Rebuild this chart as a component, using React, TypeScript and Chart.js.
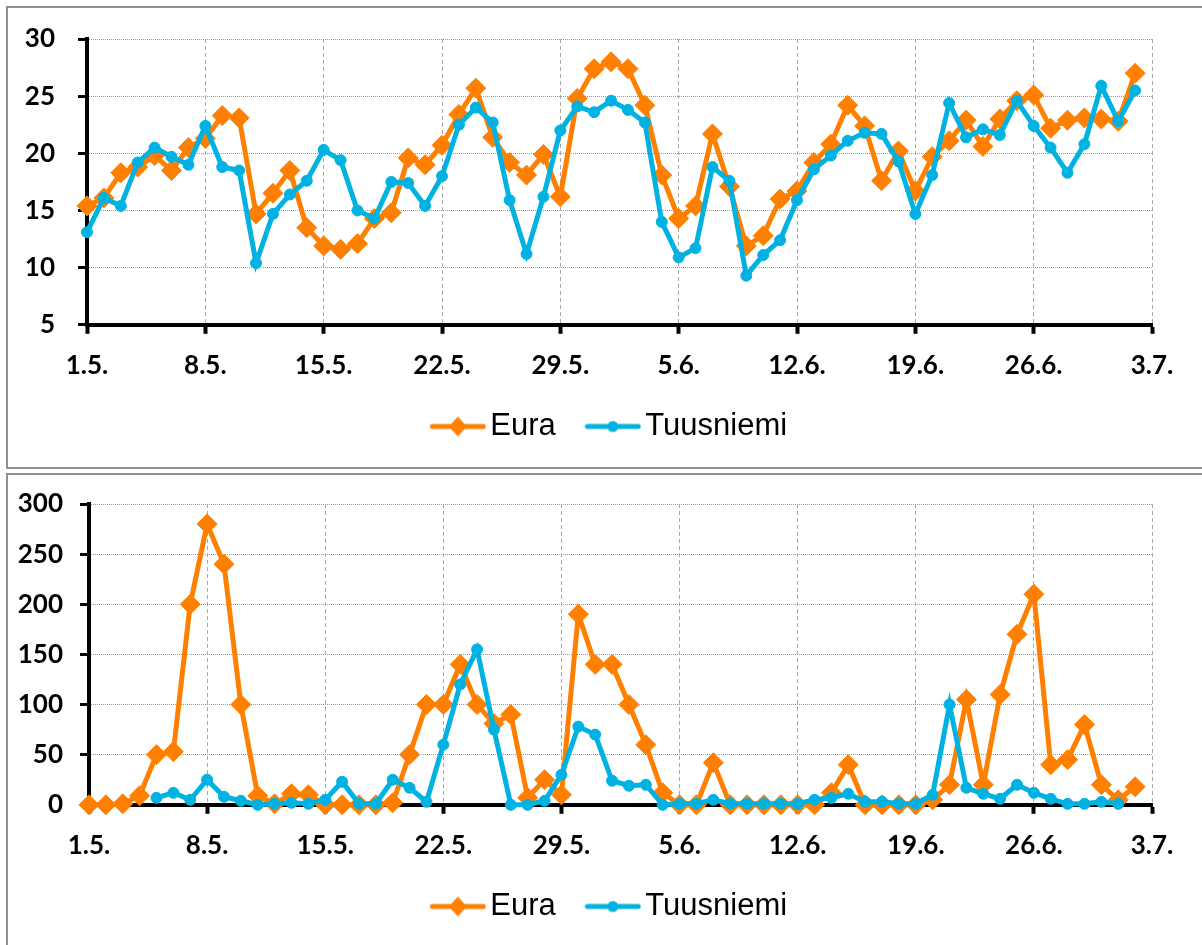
import React, { useEffect, useRef } from 'react';
import { Chart, registerables } from 'chart.js';

Chart.register(...registerables);

// ---- Data ----
const dates = [
  '1.5.', '2.5.', '3.5.', '4.5.', '5.5.', '6.5.', '7.5.', '8.5.', '9.5.', '10.5.',
  '11.5.', '12.5.', '13.5.', '14.5.', '15.5.', '16.5.', '17.5.', '18.5.', '19.5.', '20.5.',
  '21.5.', '22.5.', '23.5.', '24.5.', '25.5.', '26.5.', '27.5.', '28.5.', '29.5.', '30.5.',
  '31.5.', '1.6.', '2.6.', '3.6.', '4.6.', '5.6.', '6.6.', '7.6.', '8.6.', '9.6.',
  '10.6.', '11.6.', '12.6.', '13.6.', '14.6.', '15.6.', '16.6.', '17.6.', '18.6.', '19.6.',
  '20.6.', '21.6.', '22.6.', '23.6.', '24.6.', '25.6.', '26.6.', '27.6.', '28.6.', '29.6.',
  '30.6.', '1.7.', '2.7.', '3.7.',
];

const seriesNames = ['Eura', 'Tuusniemi'];

const tempEura = [
  15.4, 16.1, 18.3, 18.8, 19.8, 18.5, 20.5, 21.3, 23.3, 23.1,
  14.7, 16.5, 18.5, 13.5, 11.9, 11.6, 12.1, 14.3, 14.8, 19.6,
  19.0, 20.7, 23.4, 25.7, 21.4, 19.2, 18.1, 19.9, 16.2, 24.8,
  27.4, 28.0, 27.4, 24.2, 18.1, 14.3, 15.4, 21.7, 17.1, 11.9,
  12.8, 16.0, 16.7, 19.2, 20.8, 24.2, 22.4, 17.6, 20.2, 16.7,
  19.7, 21.1, 22.9, 20.6, 23.0, 24.6, 25.1, 22.2, 22.9, 23.1,
  23.0, 22.8, 27.0,
];

const tempTuusniemi = [
  13.1, 16.1, 15.4, 19.2, 20.5, 19.7, 19.0, 22.4, 18.8, 18.5,
  10.4, 14.7, 16.4, 17.6, 20.3, 19.4, 15.0, 14.3, 17.5, 17.4,
  15.4, 18.0, 22.5, 24.0, 22.7, 15.9, 11.2, 16.2, 22.0, 24.1,
  23.6, 24.6, 23.8, 22.7, 14.0, 10.9, 11.7, 18.8, 17.6, 9.3,
  11.1, 12.4, 15.9, 18.6, 19.8, 21.1, 21.8, 21.7, 19.3, 14.7,
  18.1, 24.4, 21.4, 22.1, 21.6, 24.6, 22.4, 20.5, 18.3, 20.8,
  25.9, 22.8, 25.5,
];

const rainEura = [
  0, 0, 1, 9, 50, 53, 200, 280, 240, 100,
  9, 1, 11, 10, 0, 0, 0, 0, 2, 50,
  100, 100, 140, 100, 81, 90, 7, 25, 10, 190,
  140, 140, 100, 60, 12, 0, 0, 42, 0, 0,
  0, 0, 0, 0, 12, 40, 0, 0, 0, 0,
  5, 20, 105, 20, 110, 170, 210, 40, 45, 80,
  20, 5, 18,
];

const rainTuusniemi = [
  null, null, null, null, 7, 12, 5, 25, 8, 4,
  0, 1, 2, 1, 5, 23, 1, 1, 25, 17,
  3, 60, 120, 155, 75, 0, 0, 4, 30, 78,
  70, 24, 19, 20, 0, 1, 1, 5, 1, 1,
  1, 1, 1, 5, 7, 11, 3, 3, 1, 1,
  10, 100, 17, 11, 6, 20, 12, 6, 1, 1,
  3, 1,
];

const tempRange = [5, 30, 5];
const rainRange = [0, 300, 50];

// ---- Styles ----
const ORANGE = '#FF8000';
const BLUE = '#00B2E2';
const HGRID = '#9A9A9A';
const VGRID = '#A8A8A8';
const PANEL_BORDER = '#8F8F8F';
const CLEAR = 'rgba(0,0,0,0)';

function makeSwatch(color: string, kind: 'diamond' | 'circle') {
  // 83px wide image, the visible swatch occupies x = 26..83
  const c = document.createElement('canvas');
  c.width = 83;
  c.height = 22;
  const g = c.getContext('2d')!;
  const x0 = 26;
  g.strokeStyle = color;
  g.lineWidth = 5;
  g.lineCap = 'round';
  g.beginPath();
  g.moveTo(x0 + 3, 11);
  g.lineTo(x0 + 54, 11);
  g.stroke();
  g.fillStyle = color;
  g.beginPath();
  const cx = x0 + 28.5;
  if (kind === 'diamond') {
    g.moveTo(cx, 1);
    g.lineTo(cx + 9, 11);
    g.lineTo(cx, 21);
    g.lineTo(cx - 9, 11);
    g.closePath();
  } else {
    g.arc(cx, 11, 5.5, 0, Math.PI * 2);
  }
  g.fill();
  return c;
}

type Opts = {
  eura: (number | null)[];
  tuus: (number | null)[];
  range: number[];
  yWidth: number;
  yPad: number;
  padTop: number;
  padBottom: number;
};

function makeConfig(o: Opts): any {
  const family = 'Lato, "Open Sans", sans-serif';
  const xFont = { family, size: 26, weight: 'bold' as const };
  const yFont = { family, size: 26, weight: 'bold' as const, lineHeight: 0.5 };
  const swE = makeSwatch(ORANGE, 'diamond');
  const swT = makeSwatch(BLUE, 'circle');
  return {
    type: 'line',
    data: {
      labels: dates,
      datasets: [
        {
          label: seriesNames[0],
          data: o.eura,
          borderColor: ORANGE,
          backgroundColor: ORANGE,
          borderWidth: 5,
          pointStyle: 'rectRot',
          pointRadius: 10,
          pointBorderWidth: 1,
          pointBackgroundColor: ORANGE,
          pointBorderColor: ORANGE,
          tension: 0,
          clip: false,
          order: 1,
        },
        {
          label: seriesNames[1],
          data: o.tuus,
          borderColor: BLUE,
          backgroundColor: BLUE,
          borderWidth: 5,
          pointStyle: 'circle',
          pointRadius: 5.5,
          pointBorderWidth: 1,
          pointBackgroundColor: BLUE,
          pointBorderColor: BLUE,
          tension: 0,
          clip: false,
          order: 0,
        },
      ],
    },
    options: {
      responsive: false,
      animation: false,
      events: [],
      layout: { padding: { left: 0, right: 8, top: o.padTop, bottom: o.padBottom } },
      plugins: {
        tooltip: { enabled: false },
        title: { display: false },
        legend: {
          display: true,
          position: 'bottom',
          labels: {
            usePointStyle: true,
            pointStyleWidth: 60,
            padding: 14,
            color: '#000',
            font: { family: '"Liberation Sans", Arial, sans-serif', size: 31, weight: 'normal' },
            generateLabels: () => [
              { text: seriesNames[0], pointStyle: swE, datasetIndex: 0, fillStyle: ORANGE, strokeStyle: ORANGE, lineWidth: 0, hidden: false, fontColor: '#000' },
              { text: seriesNames[1], pointStyle: swT, datasetIndex: 1, fillStyle: BLUE, strokeStyle: BLUE, lineWidth: 0, hidden: false, fontColor: '#000' },
            ],
          },
        },
      },
      scales: {
        x: {
          type: 'category',
          offset: false,
          border: { display: true, color: '#000', width: 4, dash: [4, 3] },
          grid: {
            color: (c: any) => (c.index % 7 === 0 ? VGRID : CLEAR),
            lineWidth: 1,
            drawTicks: true,
            tickLength: 9,
            tickWidth: 4,
            tickColor: (c: any) => (c.index % 7 === 0 ? '#000' : CLEAR),
            tickBorderDash: [],
          },
          ticks: {
            autoSkip: false,
            maxRotation: 0,
            minRotation: 0,
            padding: 16,
            color: '#000',
            font: xFont,
            callback: (_v: any, i: number) => (i % 7 === 0 ? dates[i] : ''),
          },
        },
        y: {
          type: 'linear',
          min: o.range[0],
          max: o.range[1],
          afterFit: (s: any) => { s.width = o.yWidth; },
          border: { display: true, color: '#000', width: 4, dash: [1, 1] },
          grid: {
            color: HGRID,
            lineWidth: 1,
            tickColor: '#000',
            tickWidth: 3,
            tickLength: 9,
            tickBorderDash: [],
          },
          ticks: { stepSize: o.range[2], padding: o.yPad, color: '#000', font: yFont },
        },
        spacer: {
          type: 'linear',
          position: 'right',
          display: true,
          afterFit: (s: any) => { s.width = 42; },
          grid: { display: false, drawTicks: false },
          border: { display: false },
          ticks: { display: false },
        },
      },
    },
  };
}

function ChartCanvas({ opts, width, height }: { opts: Opts; width: number; height: number }) {
  const ref = useRef<HTMLCanvasElement | null>(null);
  useEffect(() => {
    if (!ref.current) return;
    const chart = new Chart(ref.current, makeConfig(opts));
    return () => chart.destroy();
  }, []);
  return (
    <canvas
      ref={ref}
      width={width}
      height={height}
      style={{ position: 'absolute', left: 0, top: 0, width, height, display: 'block' }}
    />
  );
}

export default function App() {
  return (
    <div style={{ position: 'fixed', left: 0, top: 0, width: 1202, height: 945, overflow: 'hidden', background: '#fff' }}>
      <div
        style={{
          position: 'absolute', left: 6, top: 6, width: 1200, height: 463,
          border: `2px solid ${PANEL_BORDER}`, boxSizing: 'border-box', background: '#fff',
        }}
      >
        <ChartCanvas
          width={1194}
          height={459}
          opts={{ eura: tempEura, tuus: tempTuusniemi, range: tempRange, yWidth: 79, yPad: 23, padTop: 31, padBottom: 15 }}
        />
      </div>
      <div
        style={{
          position: 'absolute', left: 6, top: 473, width: 1200, height: 480,
          border: `2px solid ${PANEL_BORDER}`, boxSizing: 'border-box', background: '#fff',
        }}
      >
        <ChartCanvas
          width={1194}
          height={470}
          opts={{ eura: rainEura, tuus: rainTuusniemi, range: rainRange, yWidth: 81, yPad: 17, padTop: 29, padBottom: 13 }}
        />
      </div>
    </div>
  );
}
